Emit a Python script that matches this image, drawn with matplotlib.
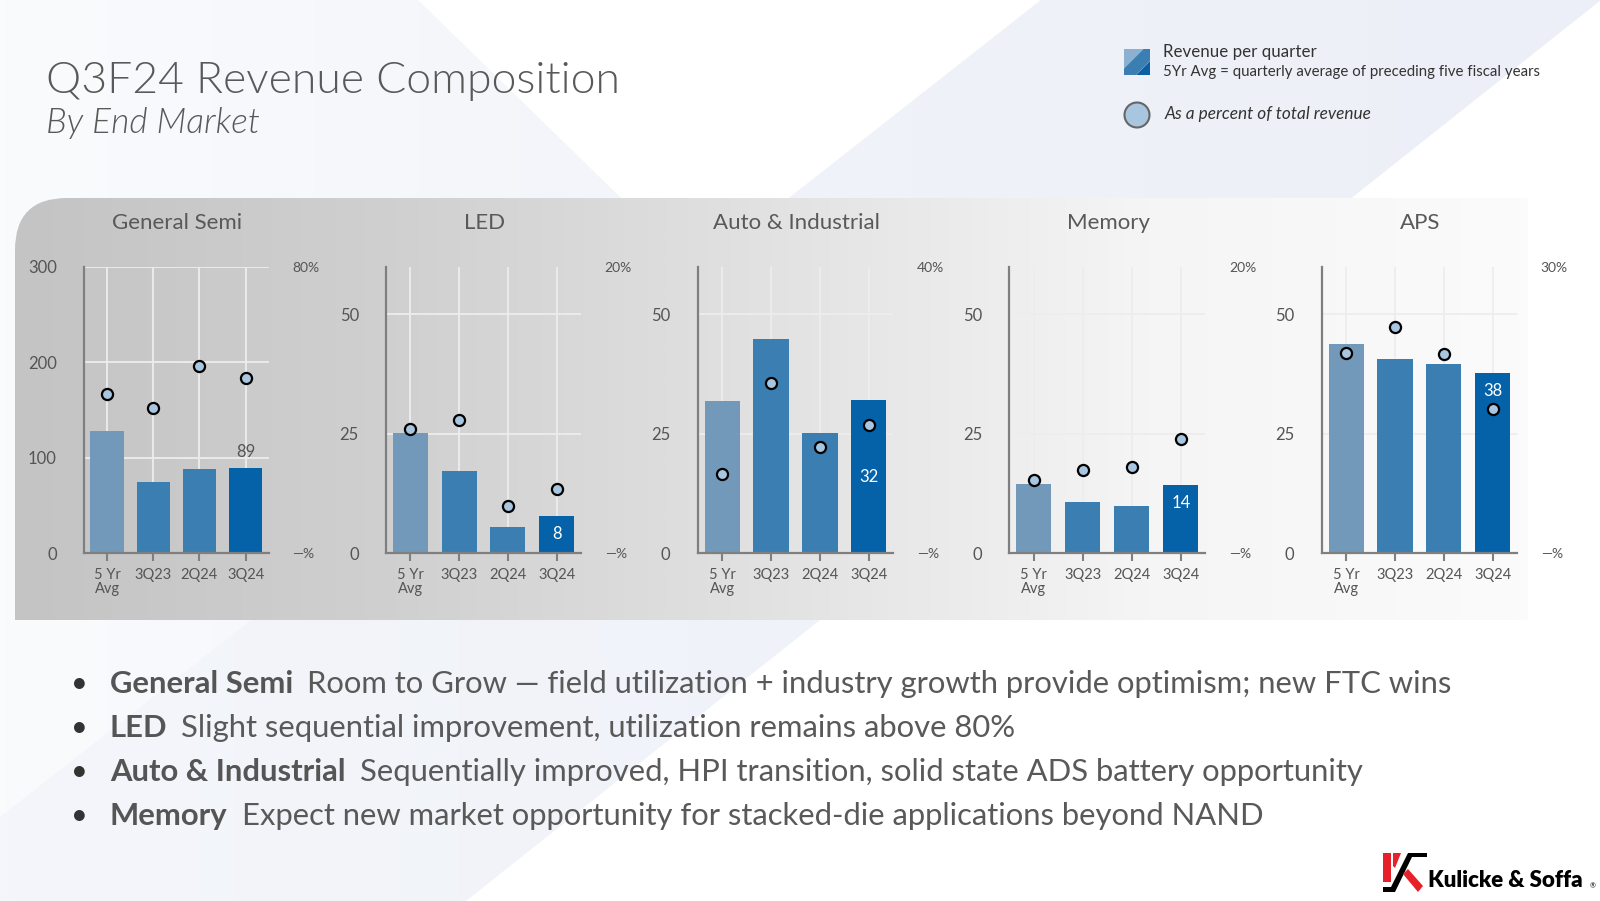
import os
import numpy as np
import matplotlib.pyplot as plt
import matplotlib.font_manager as fm
from matplotlib.patches import Polygon, PathPatch, Circle
from matplotlib.path import Path
from matplotlib.colors import LinearSegmentedColormap

plt.rcParams['font.family'] = ['Lato', 'DejaVu Sans']

# ---- data ----
periods = ['5 Yr\nAvg', '3Q23', '2Q24', '3Q24']
markets = ['General Semi', 'LED', 'Auto & Industrial', 'Memory', 'APS']

gen_semi_rev = [128, 75, 88, 89]
led_rev = [25.2, 17.3, 5.4, 7.9]
auto_rev = [31.8, 44.8, 25.1, 32]
memory_rev = [14.5, 10.7, 10.0, 14.2]
aps_rev = [43.8, 40.6, 39.5, 37.8]

gen_semi_pct = [44.4, 40.6, 52.3, 48.9]
led_pct = [8.7, 9.3, 3.3, 4.5]
auto_pct = [11.1, 23.7, 14.8, 17.9]
memory_pct = [5.1, 5.8, 6.0, 8.0]
aps_pct = [20.9, 23.7, 20.8, 15.1]

rev_ticks = [[0, 100, 200, 300], [0, 25, 50], [0, 25, 50], [0, 25, 50], [0, 25, 50]]
rev_max = [300, 60, 60, 60, 60]
pct_max = [80, 20, 40, 20, 30]

bullet_heads = ['General Semi', 'LED', 'Auto & Industrial', 'Memory']
bullet_texts = [
    'Room to Grow \u2014 field utilization + industry growth provide optimism; new FTC wins',
    'Slight sequential improvement, utilization remains above 80%',
    'Sequentially improved, HPI transition, solid state ADS battery opportunity',
    'Expect new market opportunity for stacked-die applications beyond NAND',
]

revenue = [gen_semi_rev, led_rev, auto_rev, memory_rev, aps_rev]
percent = [gen_semi_pct, led_pct, auto_pct, memory_pct, aps_pct]

# ---- styling ----
bar_colors = ['#7399BA', '#3B7FB2', '#3B7FB2', '#0561A8']
dot_face = '#A9C6E0'
text_grey = '#595959'
tick_grey = '#555555'
spine_grey = '#7F7F7F'
label_mode = ['above', 'top', 'mid', 'top', 'top']


def font_file(name, **fallback):
    for f in fm.findSystemFonts():
        if os.path.basename(f).lower() == name.lower():
            return fm.FontProperties(fname=f)
    return fm.FontProperties(family='Lato', **fallback)


light = font_file('Lato-Light.ttf', weight='normal')
light_it = font_file('Lato-LightItalic.ttf', style='italic')

W, H = 1600, 901
fig = plt.figure(figsize=(W / 100, H / 100), dpi=100)
fig.patch.set_facecolor('white')

bg = fig.add_axes([0, 0, 1, 1])
bg.set_xlim(0, W)
bg.set_ylim(H, 0)
bg.axis('off')
bg.set_zorder(-1)


def grad_fill(verts, c0, c1, x0, x1, y0, y1, z=0):
    cmap = LinearSegmentedColormap.from_list('g', [c0, c1])
    img = bg.imshow(np.linspace(0, 1, 256)[None, :], cmap=cmap, aspect='auto',
                    extent=(x0, x1, y1, y0), zorder=z, interpolation='bilinear')
    patch = Polygon(verts, closed=True, facecolor='none', edgecolor='none')
    bg.add_patch(patch)
    img.set_clip_path(patch)


# background facets
grad_fill([(0, 0), (1041, 0), (0, 817)], '#FAFBFD', '#EEF1F8', 0, 1041, 0, 901, z=0)
bg.add_patch(Polygon([(418, 0), (1041, 0), (697, 272)], closed=True, facecolor='white',
                     edgecolor='none', zorder=1))
grad_fill([(1041, 0), (1601, 0), (466, 901), (0, 901), (0, 817)],
          '#F4F6FB', '#ECEFF7', 0, 1601, 0, 901, z=2)

# grey panel with rounded top-left corner
verts = [(15, 620), (15, 250), (15, 198), (67, 198), (1528, 198), (1528, 620), (15, 620)]
codes = [Path.MOVETO, Path.LINETO, Path.CURVE3, Path.CURVE3, Path.LINETO, Path.LINETO, Path.CLOSEPOLY]
panel = PathPatch(Path(verts, codes), facecolor='none', edgecolor='none', zorder=3)
bg.add_patch(panel)
cmap = LinearSegmentedColormap.from_list('p', ['#C4C4C4', '#D0D0D0', '#E2E2E2', '#F5F5F5', '#FBFBFB'])
pimg = bg.imshow(np.linspace(0, 1, 256)[None, :], cmap=cmap, aspect='auto',
                 extent=(15, 1528, 620, 198), zorder=3, interpolation='bilinear')
pimg.set_clip_path(panel)

# title
bg.text(46, 93, 'Q3F24 Revenue Composition', fontproperties=light, fontsize=32,
        color=text_grey, va='baseline', zorder=10)
bg.text(46, 133, 'By End Market', fontproperties=light_it, fontsize=25.5,
        color=text_grey, va='baseline', zorder=10)

# legend
lx0, ly0, ls = 1124, 49, 26
bg.add_patch(Polygon([(lx0, ly0), (lx0 + 0.75 * ls, ly0), (lx0, ly0 + 0.75 * ls)],
                     facecolor='#8CB0D0', edgecolor='none', zorder=10))
bg.add_patch(Polygon([(lx0 + 0.75 * ls, ly0), (lx0 + ls, ly0), (lx0 + ls, ly0 + 0.45 * ls),
                      (lx0 + 0.45 * ls, ly0 + ls), (lx0, ly0 + ls), (lx0, ly0 + 0.75 * ls)],
                     facecolor='#3B7FB2', edgecolor='none', zorder=10))
bg.add_patch(Polygon([(lx0 + ls, ly0 + 0.45 * ls), (lx0 + ls, ly0 + ls), (lx0 + 0.45 * ls, ly0 + ls)],
                     facecolor='#0A5FA5', edgecolor='none', zorder=10))
bg.text(1163, 52, 'Revenue per quarter', fontsize=12.2, color='#333333', va='center', zorder=10)
bg.text(1163, 72, '5Yr Avg = quarterly average of preceding five fiscal years', fontsize=10.8,
        color='#333333', va='center', zorder=10)
bg.add_patch(Circle((1137, 115), 12.5, facecolor=dot_face, edgecolor='#666666', lw=1.5, zorder=10))
bg.text(1165, 114, 'As a percent of total revenue', fontsize=12.4, style='italic',
        color='#333333', va='center', zorder=10)

# chart panels (pixel boxes)
ax_left = [84, 386, 697.7, 1009.3, 1321.7]
ax_width = [184.7, 195, 195.6, 196, 195.3]
ax_top, ax_bottom = 266.5, 553.3

x = np.arange(len(periods))
for i, name in enumerate(markets):
    rect = [ax_left[i] / W, 1 - ax_bottom / H, ax_width[i] / W, (ax_bottom - ax_top) / H]
    ax = fig.add_axes(rect)
    ax.patch.set_alpha(0)
    ax.bar(x, revenue[i], width=0.72, color=bar_colors, zorder=3)
    ax.set_xlim(-0.5, 3.5)
    ax.set_ylim(0, rev_max[i])
    ax.set_yticks(rev_ticks[i])
    ax.set_xticks(x)
    ax.set_xticklabels(periods, linespacing=1.05)
    ax.grid(True, color='#EDEDED', lw=1.3, zorder=1)
    ax.set_axisbelow(True)
    for s in ['top', 'right']:
        ax.spines[s].set_visible(False)
    for s in ['left', 'bottom']:
        ax.spines[s].set_color(spine_grey)
        ax.spines[s].set_linewidth(1.6)
        ax.spines[s].set_zorder(4)
    ax.tick_params(axis='y', length=0, pad=19.5, labelsize=12, labelcolor=tick_grey)
    ax.tick_params(axis='x', length=6, width=1.5, color=spine_grey, pad=4.5,
                   labelsize=10.5, labelcolor=tick_grey)

    last = revenue[i][-1]
    if label_mode[i] == 'above':
        ax.annotate(f'{last:.0f}', (3, last), xytext=(0, 11.5), textcoords='offset points',
                    ha='center', va='center', fontsize=12, color=tick_grey, zorder=5)
    elif label_mode[i] == 'top':
        ax.annotate(f'{last:.0f}', (3, last), xytext=(0, -13), textcoords='offset points',
                    ha='center', va='center', fontsize=12, color='white', zorder=5)
    else:
        ax.annotate(f'{last:.0f}', (3, last / 2), ha='center', va='center',
                    fontsize=12, color='white', zorder=5)

    ax2 = ax.twinx()
    ax2.set_ylim(0, pct_max[i])
    ax2.set_yticks([0, pct_max[i]])
    ax2.set_yticklabels(['\u2014%', f'{pct_max[i]}%'])
    ax2.tick_params(axis='y', length=0, pad=17, labelsize=10, labelcolor=tick_grey)
    for s in ax2.spines.values():
        s.set_visible(False)
    ax2.plot(x, percent[i], 'o', ms=8, mfc=dot_face, mec='black', mew=1.6, zorder=6)

    cx = ax_left[i] + ax_width[i] / 2 + 1
    bg.text(cx, 223, name, ha='center', va='center', fontsize=16, color=text_grey, zorder=10)

# bullets
for j, (head, body) in enumerate(zip(bullet_heads, bullet_texts)):
    yb = 684 + j * 44
    bg.text(79, yb, '\u2022', ha='center', va='center', fontsize=21, color='#333333', zorder=10)
    t = bg.text(110, yb, head, ha='left', va='center', fontsize=22.3, fontweight='bold',
                color='#555555', zorder=10)
    bg.annotate(body, xy=(1, 0.5), xycoords=t, xytext=(10, 0), textcoords='offset points',
                ha='left', va='center', fontsize=22.3, color='#595959', zorder=10)

# logo
bg.add_patch(Polygon([(1383, 853), (1391, 853), (1391, 882), (1383, 882)],
                     facecolor='#E8202A', edgecolor='none', zorder=10))
bg.add_patch(Polygon([(1393, 853), (1401, 853), (1395, 868), (1393, 866)],
                     facecolor='#E8202A', edgecolor='none', zorder=10))
bg.add_patch(Polygon([(1408, 853), (1427, 853), (1427, 857), (1412, 857), (1395, 892),
                      (1383, 892), (1383, 887), (1391, 887)],
                     facecolor='black', edgecolor='none', zorder=10))
bg.add_patch(Polygon([(1403, 874), (1408, 869), (1423, 886), (1418, 892)],
                     facecolor='#E8202A', edgecolor='none', zorder=10))
bg.text(1428, 887, 'Kulicke & Soffa', fontsize=16, fontweight='heavy', color='black',
        va='baseline', zorder=10)
bg.text(1590, 888, '\u00ae', fontsize=5, color='black', va='baseline', zorder=10)

fig.savefig('out.png', dpi=100)
